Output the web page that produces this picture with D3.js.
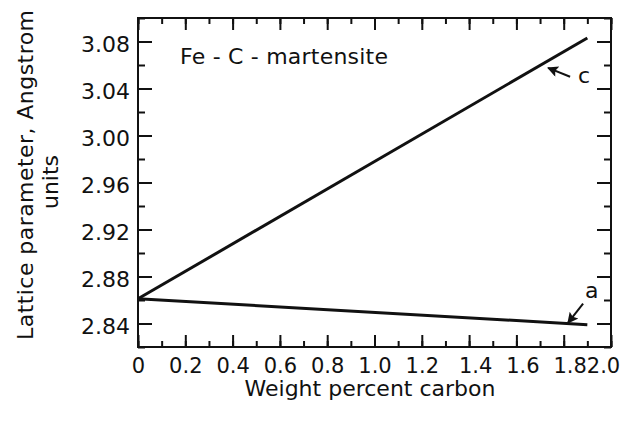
<!DOCTYPE html>
<html>
<head>
<meta charset="utf-8">
<script src="https://cdn.jsdelivr.net/npm/d3@7"></script>
<style>
  body { margin: 0; background: #fff; }
  svg { display: block; }
  text { font-family: "DejaVu Sans", sans-serif; fill: #111; }
</style>
</head>
<body>
<script>
'use strict';

// data
var carbon = [0, 1.9];
var cParam = [2.861, 3.083];
var aParam = [2.861, 2.839];

var xMajor = [0, 0.2, 0.4, 0.6, 0.8, 1.0, 1.2, 1.4, 1.6, 1.8, 2.0];
var yMajor = [2.84, 2.88, 2.92, 2.96, 3.00, 3.04, 3.08];

// arrow annotations: [tailX, tailY, tipX, tipY]
var cArrow = [1.827, 3.050, 1.734, 3.0575];
var aArrow = [1.882, 2.857, 1.818, 2.8405];

var width = 624,
    height = 421;

var svg = d3.select('body').append('svg')
    .attr('width', width)
    .attr('height', height);

var x = d3.scaleLinear().domain([0, 2.0]).range([138, 611]);
var y = d3.scaleLinear().domain([2.82, 3.10]).range([347, 18]);

var xMinor = d3.range(0, 2.01, 0.1);
var yMinor = d3.range(2.82, 3.101, 0.02);

var fmtX = function(d) { return d === 0 ? '0' : d3.format('.1f')(d); };

// bottom axis
svg.append('g')
    .attr('transform', 'translate(0,' + y.range()[0] + ')')
    .call(d3.axisBottom(x).tickValues(xMinor).tickSize(-6).tickFormat(''));
svg.append('g')
    .attr('class', 'xlab')
    .attr('transform', 'translate(0,' + y.range()[0] + ')')
    .call(d3.axisBottom(x).tickValues(xMajor).tickSize(-12).tickPadding(11).tickFormat(fmtX));

// top axis
svg.append('g')
    .attr('transform', 'translate(0,' + y.range()[1] + ')')
    .call(d3.axisTop(x).tickValues(xMinor).tickSize(-6).tickFormat(''));
svg.append('g')
    .attr('transform', 'translate(0,' + y.range()[1] + ')')
    .call(d3.axisTop(x).tickValues(xMajor).tickSize(-12).tickFormat(''));

// left axis
svg.append('g')
    .attr('transform', 'translate(' + x.range()[0] + ',0)')
    .call(d3.axisLeft(y).tickValues(yMinor).tickSize(-7).tickFormat(''));
svg.append('g')
    .attr('class', 'ylab')
    .attr('transform', 'translate(' + x.range()[0] + ',0)')
    .call(d3.axisLeft(y).tickValues(yMajor).tickSize(-14).tickPadding(8).tickFormat(d3.format('.2f')));

// right axis
svg.append('g')
    .attr('transform', 'translate(' + x.range()[1] + ',0)')
    .call(d3.axisRight(y).tickValues(yMinor).tickSize(-7).tickFormat(''));
svg.append('g')
    .attr('transform', 'translate(' + x.range()[1] + ',0)')
    .call(d3.axisRight(y).tickValues(yMajor).tickSize(-14).tickFormat(''));

svg.selectAll('.domain').remove();
svg.selectAll('.tick line').attr('stroke', '#111').attr('stroke-width', 2);
svg.selectAll('.tick text')
    .style('font-family', '"DejaVu Sans", sans-serif')
    .style('font-size', '21px')
    .attr('fill', '#111');
svg.selectAll('.ylab .tick text').style('font-size', '22px').attr('dy', '0.45em');

// hand-lettered labels near the right end sit a little off their ticks
svg.selectAll('.xlab .tick text')
    .attr('dx', function(d) {
      if (d >= 1.95) return -8;
      if (d >= 1.35) return 6;
      return 0;
    });

// frame
svg.append('rect')
    .attr('x', x.range()[0])
    .attr('y', y.range()[1])
    .attr('width', x.range()[1] - x.range()[0])
    .attr('height', y.range()[0] - y.range()[1])
    .attr('fill', 'none')
    .attr('stroke', '#111')
    .attr('stroke-width', 2);

// lines
var line = d3.line()
    .x(function(d) { return x(d[0]); })
    .y(function(d) { return y(d[1]); });

[cParam, aParam].forEach(function(series) {
  svg.append('path')
    .datum(d3.zip(carbon, series))
    .attr('d', line)
    .attr('fill', 'none')
    .attr('stroke', '#111')
    .attr('stroke-width', 3);
});

// arrows
svg.append('defs').append('marker')
    .attr('id', 'head')
    .attr('viewBox', '0 0 10 10')
    .attr('refX', 9)
    .attr('refY', 5)
    .attr('markerWidth', 14)
    .attr('markerHeight', 11)
    .attr('markerUnits', 'userSpaceOnUse')
    .attr('orient', 'auto')
  .append('path')
    .attr('d', 'M0,0 L10,5 L0,10 L2,5 Z')
    .attr('fill', '#111');

[cArrow, aArrow].forEach(function(a) {
  svg.append('line')
    .attr('x1', x(a[0])).attr('y1', y(a[1]))
    .attr('x2', x(a[2])).attr('y2', y(a[3]))
    .attr('stroke', '#111')
    .attr('stroke-width', 2)
    .attr('marker-end', 'url(#head)');
});

svg.append('text')
    .attr('x', x(cArrow[0]) + 8)
    .attr('y', y(cArrow[1]) + 6)
    .style('font-size', '22px')
    .text('c');

svg.append('text')
    .attr('x', x(aArrow[0]) + 2)
    .attr('y', y(aArrow[1]) - 6)
    .style('font-size', '22px')
    .text('a');

// in-plot title
svg.append('text')
    .attr('x', 180)
    .attr('y', 64)
    .style('font-size', '22px')
    .attr('textLength', 208)
    .attr('lengthAdjust', 'spacing')
    .text('Fe - C - martensite');

// axis titles
svg.append('text')
    .attr('x', 370)
    .attr('y', 396)
    .attr('text-anchor', 'middle')
    .style('font-size', '22px')
    .text('Weight percent carbon');

svg.append('text')
    .attr('transform', 'translate(33,175) rotate(-90)')
    .attr('text-anchor', 'middle')
    .style('font-size', '22px')
    .attr('textLength', 330)
    .attr('lengthAdjust', 'spacing')
    .text('Lattice parameter, Angstrom');

svg.append('text')
    .attr('transform', 'translate(58,182) rotate(-90)')
    .attr('text-anchor', 'middle')
    .style('font-size', '22px')
    .text('units');
</script>
</body>
</html>
